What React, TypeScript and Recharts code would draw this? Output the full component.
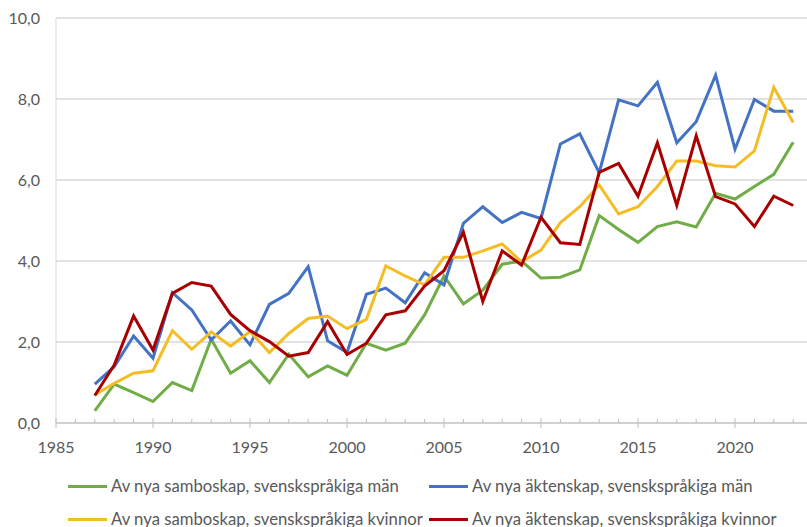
import React from "react";
import { LineChart, Line, XAxis, YAxis, CartesianGrid } from "recharts";

const years = [1987, 1988, 1989, 1990, 1991, 1992, 1993, 1994, 1995, 1996, 1997, 1998, 1999, 2000, 2001, 2002, 2003, 2004, 2005, 2006, 2007, 2008, 2009, 2010, 2011, 2012, 2013, 2014, 2015, 2016, 2017, 2018, 2019, 2020, 2021, 2022, 2023];

const sambokapMan = [0.3, 0.96, 0.75, 0.53, 1.0, 0.8, 2.07, 1.23, 1.54, 1.0, 1.7, 1.14, 1.41, 1.18, 1.97, 1.8, 1.97, 2.67, 3.63, 2.94, 3.28, 3.92, 4.0, 3.58, 3.6, 3.78, 5.12, 4.78, 4.46, 4.85, 4.97, 4.84, 5.67, 5.53, 5.84, 6.14, 6.93];
const aktenskapMan = [0.96, 1.39, 2.15, 1.6, 3.22, 2.79, 2.05, 2.52, 1.93, 2.93, 3.2, 3.86, 2.03, 1.74, 3.18, 3.33, 2.97, 3.71, 3.41, 4.93, 5.34, 4.95, 5.2, 5.05, 6.89, 7.14, 6.18, 7.98, 7.83, 8.41, 6.92, 7.44, 8.59, 6.76, 7.99, 7.7, 7.7];
const sambokapKvinnor = [0.69, 0.98, 1.23, 1.29, 2.28, 1.82, 2.25, 1.9, 2.26, 1.74, 2.21, 2.58, 2.64, 2.33, 2.56, 3.88, 3.63, 3.41, 4.09, 4.09, 4.25, 4.42, 3.98, 4.27, 4.95, 5.34, 5.88, 5.16, 5.34, 5.84, 6.47, 6.47, 6.35, 6.32, 6.72, 8.29, 7.42];
const aktenskapKvinnor = [0.68, 1.43, 2.64, 1.8, 3.2, 3.47, 3.38, 2.68, 2.28, 2.01, 1.65, 1.74, 2.5, 1.69, 1.97, 2.67, 2.77, 3.38, 3.76, 4.71, 3.0, 4.25, 3.9, 5.08, 4.45, 4.41, 6.19, 6.41, 5.6, 6.92, 5.37, 7.09, 5.59, 5.41, 4.85, 5.6, 5.37];

const seriesNames = [
  "Av nya samboskap, svenskspråkiga män",
  "Av nya äktenskap, svenskspråkiga män",
  "Av nya samboskap, svenskspråkiga kvinnor",
  "Av nya äktenskap, svenskspråkiga kvinnor",
];
const seriesKeys = ["sm", "am", "sk", "ak"];
const seriesColors = ["#70AD47", "#4472C4", "#F5BD25", "#A80000"];

const xTicks = [1985, 1986, 1987, 1988, 1989, 1990, 1991, 1992, 1993, 1994, 1995, 1996, 1997, 1998, 1999, 2000, 2001, 2002, 2003, 2004, 2005, 2006, 2007, 2008, 2009, 2010, 2011, 2012, 2013, 2014, 2015, 2016, 2017, 2018, 2019, 2020, 2021, 2022, 2023, 2024, 2025];
const xLabels = [1985, 1990, 1995, 2000, 2005, 2010, 2015, 2020];
const yTicks = [0, 2, 4, 6, 8, 10];

const data = years.map((y, i) => ({
  year: y,
  sm: sambokapMan[i],
  am: aktenskapMan[i],
  sk: sambokapKvinnor[i],
  ak: aktenskapKvinnor[i],
}));

const FONT = "Lato, 'Open Sans', sans-serif";

const XTick = (props: any) => {
  const { x, y, payload } = props;
  const v = payload.value;
  const major = v % 5 === 0;
  return (
    <g>
      {major ? (
        <line x1={x} x2={x} y1={y - 5} y2={y + 5} stroke="#BFBFBF" strokeWidth={1} />
      ) : (
        <line x1={x} x2={x} y1={y - 4} y2={y} stroke="#BFBFBF" strokeWidth={1} />
      )}
      {xLabels.includes(v) ? (
        <text x={x} y={y + 30} textAnchor="middle" fill="#595959" fontSize={16} fontFamily={FONT}>
          {String(v)}
        </text>
      ) : null}
    </g>
  );
};

const YTick = (props: any) => {
  const { x, y, payload } = props;
  return (
    <text x={x} y={y} dy={6} textAnchor="end" fill="#595959" fontSize={16} fontFamily={FONT}>
      {payload.value.toFixed(1).replace(".", ",")}
    </text>
  );
};

export default function App() {
  return (
    <div style={{ position: "absolute", left: 0, top: 0, width: 807, height: 527, overflow: "hidden", background: "#fff" }}>
      <LineChart
        width={850}
        height={527}
        data={data}
        margin={{ top: 18, right: 18, bottom: 74, left: 0 }}
      >
        <CartesianGrid horizontal={true} vertical={false} stroke="#D9D9D9" strokeWidth={1.3} />
        <XAxis
          dataKey="year"
          type="number"
          domain={[1985, 2025]}
          ticks={xTicks}
          interval={0}
          tick={<XTick />}
          tickSize={0}
          tickMargin={0}
          tickLine={false}
          axisLine={{ stroke: "#BFBFBF", strokeWidth: 1 }}
          height={30}
        />
        <YAxis
          type="number"
          domain={[0, 10]}
          ticks={yTicks}
          interval={0}
          width={56}
          tick={<YTick />}
          tickSize={0}
          tickMargin={16}
          tickLine={false}
          axisLine={{ stroke: "#D9D9D9", strokeWidth: 1 }}
        />
        {seriesKeys.map((k, i) => (
          <Line
            key={k}
            type="linear"
            dataKey={k}
            stroke={seriesColors[i]}
            strokeWidth={3}
            dot={false}
            isAnimationActive={false}
          />
        ))}
      </LineChart>
      {seriesNames.map((name, i) => {
        const col = i % 2;
        const row = Math.floor(i / 2);
        const left = col === 0 ? 68 : 429;
        const top = row === 0 ? 486 : 519;
        return (
          <div
            key={name}
            style={{
              position: "absolute",
              left,
              top: top - 11,
              height: 22,
              display: "flex",
              alignItems: "center",
              whiteSpace: "nowrap",
              fontFamily: FONT,
              fontSize: 16.7,
              color: "#595959",
            }}
          >
            <div style={{ width: 39, height: 3, background: seriesColors[i], marginRight: 4 }} />
            <span>{name}</span>
          </div>
        );
      })}
    </div>
  );
}
